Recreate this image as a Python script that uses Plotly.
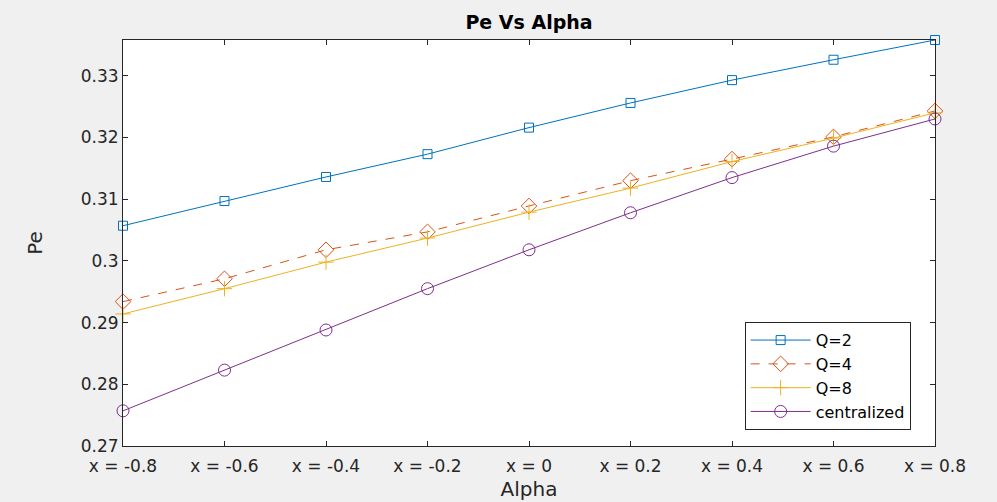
import plotly.graph_objects as go

alpha = [-0.8, -0.6, -0.4, -0.2, 0.0, 0.2, 0.4, 0.6, 0.8]
alpha_labels = ["x = -0.8", "x = -0.6", "x = -0.4", "x = -0.2", "x = 0",
                "x = 0.2", "x = 0.4", "x = 0.6", "x = 0.8"]
pe_q2 = [0.3057, 0.3097, 0.3136, 0.3173, 0.3216, 0.3256, 0.3293, 0.3326, 0.3358]
pe_q4 = [0.2934, 0.2971, 0.3018, 0.3047, 0.3089, 0.3130, 0.3165, 0.3201, 0.3243]
pe_q8 = [0.2914, 0.2955, 0.2998, 0.3037, 0.3079, 0.3118, 0.3161, 0.3199, 0.3240]
pe_central = [0.2757, 0.2823, 0.2888, 0.2955, 0.3018, 0.3078, 0.3135, 0.3186, 0.3230]
y_ticks = [0.27, 0.28, 0.29, 0.30, 0.31, 0.32, 0.33]
y_ticktext = ["0.27", "0.28", "0.29", "0.3", "0.31", "0.32", "0.33"]

FONT = "DejaVu Sans"
AX = "#262626"

fig = go.Figure()
series = [
    ("Q=2", pe_q2, "#0072BD", "square-open", "solid", 9),
    ("Q=4", pe_q4, "#D95319", "diamond-open", "dash", 12),
    ("Q=8", pe_q8, "#EDB120", "cross-thin-open", "solid", 11),
    ("centralized", pe_central, "#7E2F8E", "circle-open", "solid", 12),
]
for name, ys, col, sym, dash, size in series:
    fig.add_trace(go.Scatter(
        x=alpha, y=ys, name=name, mode="lines+markers",
        line=dict(color=col, width=1, dash=dash),
        marker=dict(symbol=sym, size=size, color=col, line=dict(color=col, width=1)),
        cliponaxis=False,
    ))

fig.update_layout(
    width=997, height=502,
    paper_bgcolor="#f0f0f0", plot_bgcolor="white",
    margin=dict(l=123, r=62, t=40, b=56),
    title=dict(text="<b>Pe Vs Alpha</b>", x=0.5, xref="paper", xanchor="center",
               y=0.955, yref="container", yanchor="middle",
               font=dict(family=FONT, size=19, color="black")),
    font=dict(family=FONT, color=AX),
    showlegend=True,
    legend=dict(x=0.970, y=0.039, xanchor="right", yanchor="bottom",
                bgcolor="white", bordercolor=AX, borderwidth=1,
                font=dict(family=FONT, size=16, color="black"),
                tracegroupgap=0, itemwidth=60),
    xaxis=dict(range=[-0.8, 0.8], tickvals=alpha, ticktext=alpha_labels,
               showgrid=False, zeroline=False, showline=True, linecolor=AX, linewidth=1,
               mirror="ticks", ticks="inside", ticklen=5, tickcolor=AX,
               ticklabelstandoff=5, automargin=False,
               tickfont=dict(family=FONT, size=17, color=AX),
               title=dict(text="Alpha", font=dict(family=FONT, size=20, color=AX), standoff=6)),
    yaxis=dict(range=[0.27, 0.3358], tickvals=y_ticks, ticktext=y_ticktext,
               showgrid=False, zeroline=False, showline=True, linecolor=AX, linewidth=1,
               mirror="ticks", ticks="inside", ticklen=5, tickcolor=AX,
               automargin=False,
               tickfont=dict(family=FONT, size=17, color=AX),
               title=dict(text="Pe", font=dict(family=FONT, size=20, color=AX), standoff=32)),
)
fig.write_html("out.html")
